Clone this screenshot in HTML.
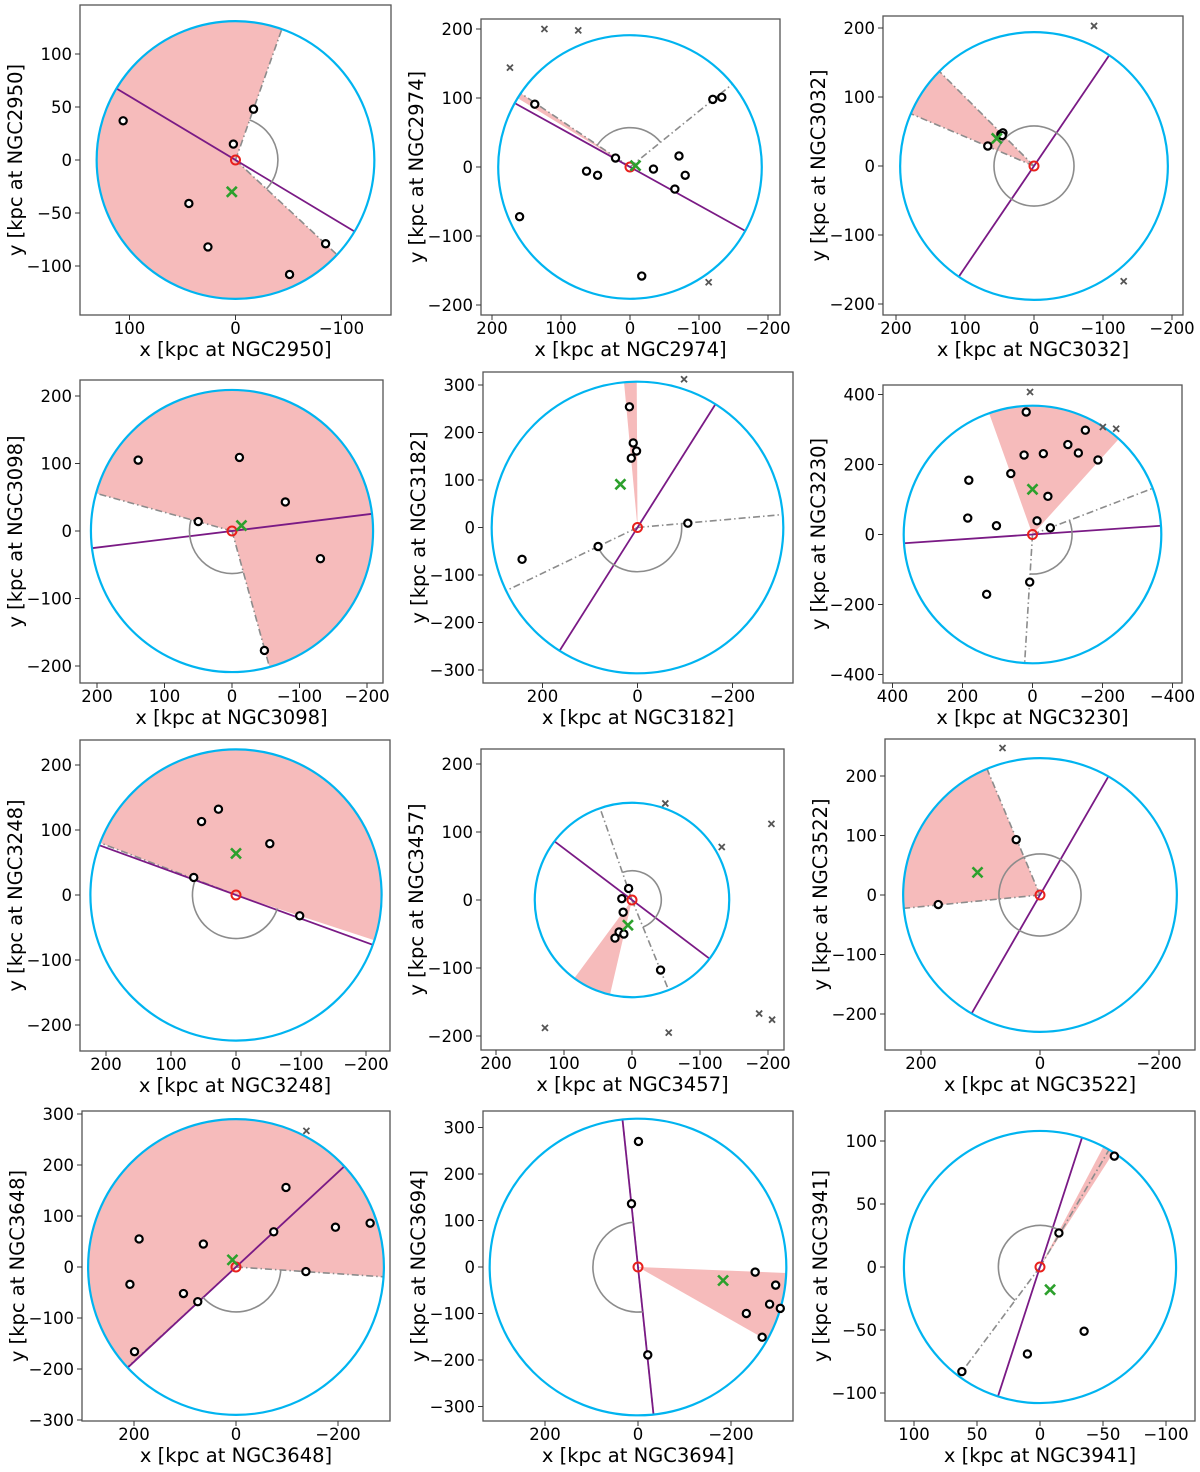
<!DOCTYPE html>
<html><head><meta charset="utf-8">
<style>
html,body{margin:0;padding:0;background:#fff;}
svg{display:block;font-family:"DejaVu Sans","Liberation Sans",sans-serif;}
</style></head>
<body>
<svg id="fig" width="1200" height="1472" viewBox="0 0 1200 1472" xmlns="http://www.w3.org/2000/svg"></svg>
<script>
// ---- data ----
const galaxyNames = ["NGC2950","NGC2974","NGC3032","NGC3098","NGC3182","NGC3230","NGC3248","NGC3457","NGC3522","NGC3648","NGC3694","NGC3941"];
const satX = [
 [106,-17,2,44,26,-51,-85],
 [138,21,63,47,-34,-71,-80,-65,-120,-133,160,-17],
 [67,48,45,46],
 [139,-11,-79,50,-131,-48],
 [17,9,2,13,-106,83,243],
 [18,24,-31,-101,-131,-151,-187,62,-44,-13,-51,182,185,103,8,131],
 [27,53,-52,65,-98],
 [5,15,13,19,12,25,-42],
 [40,171],
 [-98,-74,-195,-263,-137,190,64,208,103,75,199],
 [-1,14,-21,-252,-296,-283,-306,-233,-267],
 [-59,-15,-35,10,62]
];
const satY = [
 [37,48,15,-41,-82,-108,-79],
 [91,13,-6,-12,-3,16,-12,-32,98,101,-72,-158],
 [29,46,48,44],
 [105,109,43,14,-41,-177],
 [254,178,161,146,9,-40,-67],
 [350,227,231,257,233,298,213,174,109,39,19,155,47,25,-136,-171],
 [132,113,79,27,-32],
 [17,2,-18,-47,-50,-56,-103],
 [93,-16],
 [156,69,78,86,-9,55,45,-34,-52,-68,-166],
 [270,136,-189,-11,-39,-80,-89,-100,-151],
 [88,27,-51,-69,-83]
];
const bgX = [[],[124,75,174,-114],[-87,-130],[],[-98],[7,-201,-239],[],[-49,-205,-132,128,-54,-187,-206],[63],[-138],[],[]];
const bgY = [[],[200,198,144,-167],[203,-167],[],[312],[407,307,302],[],[142,112,78,-188,-195,-167,-176],[247],[267],[],[]];
const centroidX = [3.5,-8,54,-14,36,0,0,6,105,7,-183,-8];
const centroidY = [-30,2,40,8,91,129,64,-37,38,14,-29,-18];
const circleR = [131,191,194,209,307,368,224,143,230,290,319,108];
const majorAngle = [149,151,55.8,7,57.7,3.9,160,142.9,60,42.9,96,72];
const wedgeStart = [70.5,146,135,-74.6,90.3,47.9,-18.1,233.6,112.8,-3.8,-29.6,57.3];
const wedgeEnd = [317,148.5,157,164.5,95.3,109.7,159,256.9,185.6,222.7,-2.3,62.2];
const arcR = [40,57,58,63,93,113,67,43,69,88,97,33];
const arcStart = [-43,39,0,164.5,205.7,266.5,160,-67.9,0,222.7,96,59.5];
const arcEnd = [70.5,147,360,285.4,365.1,381,341.9,109.2,360,356.2,276,233.3];
const dashLines = [[70.5,-43],[39,146],[135,157],[164.5,-74.6],[5.1,205.7],[21,266.5],[159],[109.2,-67.9],[112.8,185.6],[-3.8,222.7],[96,276],[59.5,233.3]];
const xTicks = [[100,0,-100],[200,100,0,-100,-200],[200,100,0,-100,-200],[200,100,0,-100,-200],[200,0,-200],[400,200,0,-200,-400],[200,100,0,-100,-200],[200,100,0,-100,-200],[200,0,-200],[200,0,-200],[200,0,-200],[100,50,0,-50,-100]];
const yTicks = [[100,50,0,-50,-100],[200,100,0,-100,-200],[200,100,0,-100,-200],[200,100,0,-100,-200],[300,200,100,0,-100,-200,-300],[400,200,0,-200,-400],[200,100,0,-100,-200],[200,100,0,-100,-200],[200,100,0,-100,-200],[300,200,100,0,-100,-200,-300],[300,200,100,0,-100,-200,-300],[100,50,0,-50,-100]];
// ---- layout (pixels) ----
const boxL=[80,481,883,80,483,883,80,481,885,82,483,885];
const boxT=[5,19,16,380,372,385,740,749,739,1111,1111,1111];
const boxR=[391,780,1183,383,793,1182,390,784,1195,390,793,1195];
const boxB=[315,315,315,683,683,683,1051,1050,1050,1421,1421,1421];
const ctrX=[235.5,630,1034,232,637.5,1032.5,236,632,1040,236,638,1040];
const ctrY=[160,167,166,531,527.5,534.5,895,900,895,1267,1267,1267];
const scale=[1.06,0.69,0.69,0.675,0.475,0.35,0.65,0.68,0.595,0.51,0.465,1.26];

const NS="http://www.w3.org/2000/svg";
const svg=document.getElementById('fig');
function mk(tag,attrs,parent){const e=document.createElementNS(NS,tag);for(const k in attrs)e.setAttribute(k,attrs[k]);(parent||svg).appendChild(e);return e;}
function fmt(v){return v<0?"\u2212"+Math.abs(v):String(v);}
const defs=mk('defs',{});
for(let i=0;i<12;i++){
  const cx=ctrX[i],cy=ctrY[i],s=scale[i];
  const X=v=>cx-s*v, Y=v=>cy-s*v;
  const pa=(a,r)=>[cx+r*Math.cos(a*Math.PI/180), cy-r*Math.sin(a*Math.PI/180)];
  const cp=mk('clipPath',{id:'clip'+i},defs);
  mk('rect',{x:boxL[i],y:boxT[i],width:boxR[i]-boxL[i],height:boxB[i]-boxT[i]},cp);
  const g=mk('g',{});
  
  
  const pg=mk('g',{'clip-path':'url(#clip'+i+')'},g);
  const R=circleR[i]*s;
  const a1=wedgeStart[i],a2=wedgeEnd[i];
  const p1=pa(a1,R),p2=pa(a2,R);
  const large=((a2-a1+720)%360)>180?1:0;
  const w=mk('path',{d:`M${cx},${cy} L${p1[0]},${p1[1]} A${R},${R} 0 ${large} 0 ${p2[0]},${p2[1]} Z`,fill:'rgb(246,187,187)',stroke:'none'},pg);
  
  
  dashLines[i].forEach(a=>{const p=pa(a,R);
    const l=mk('line',{x1:cx,y1:cy,x2:p[0],y2:p[1],stroke:'#8c8c8c','stroke-width':1.6,'stroke-dasharray':'7,3,1.5,3'},pg);
    
    });
  const m1=pa(majorAngle[i],R),m2=pa(majorAngle[i]+180,R);
  const ml=mk('line',{x1:m1[0],y1:m1[1],x2:m2[0],y2:m2[1],stroke:'#7a1a85','stroke-width':1.8},pg);
  
  
  const r2=arcR[i]*s;
  let arc;
  if(arcEnd[i]-arcStart[i]>=359){arc=mk('circle',{cx:cx,cy:cy,r:r2,fill:'none',stroke:'#8c8c8c','stroke-width':1.6},pg);}
  else{const q1=pa(arcStart[i],r2),q2=pa(arcEnd[i],r2);const lg=(arcEnd[i]-arcStart[i])>180?1:0;
    arc=mk('path',{d:`M${q1[0]},${q1[1]} A${r2},${r2} 0 ${lg} 0 ${q2[0]},${q2[1]}`,fill:'none',stroke:'#8c8c8c','stroke-width':1.6},pg);}
  
  
  const c=mk('circle',{cx:cx,cy:cy,r:R,fill:'none',stroke:'#00b4f0','stroke-width':2.2},pg);
  
  
  bgX[i].forEach((v,j)=>{const x=X(v),y=Y(bgY[i][j]),d=3;
    const p=mk('path',{d:`M${x-d},${y-d}L${x+d},${y+d}M${x-d},${y+d}L${x+d},${y-d}`,stroke:'#555','stroke-width':1.8},pg);
    
    });
  satX[i].forEach((v,j)=>{
    const p=mk('circle',{cx:X(v),cy:Y(satY[i][j]),r:3.6,fill:'#fff',stroke:'#000','stroke-width':2.2},pg);
    
    });
  const h=mk('circle',{cx:cx,cy:cy,r:4.5,fill:'none',stroke:'#e8201c','stroke-width':2},pg);
  
  
  {const x=X(centroidX[i]),y=Y(centroidY[i]),d=5;
   const p=mk('path',{d:`M${x-d},${y-d}L${x+d},${y+d}M${x-d},${y+d}L${x+d},${y-d}`,stroke:'#2ca02c','stroke-width':2.6},pg);
   
   }
  const b=mk('rect',{x:boxL[i],y:boxT[i],width:boxR[i]-boxL[i],height:boxB[i]-boxT[i],fill:'none',stroke:'#555','stroke-width':1.3},g);
  
  
  xTicks[i].forEach(v=>{const x=X(v);
    mk('line',{x1:x,y1:boxB[i],x2:x,y2:boxB[i]+5,stroke:'#333','stroke-width':1},g);
    const t=mk('text',{x:x,y:boxB[i]+19,'font-size':16.5,'text-anchor':'middle',fill:'#000'},g);
    t.textContent=fmt(v);
    
    });
  yTicks[i].forEach(v=>{const y=Y(v);
    mk('line',{x1:boxL[i]-5,y1:y,x2:boxL[i],y2:y,stroke:'#333','stroke-width':1},g);
    const t=mk('text',{x:boxL[i]-8,y:y+6,'font-size':16.5,'text-anchor':'end',fill:'#000'},g);
    t.textContent=fmt(v);
    
    });
  const mx=(boxL[i]+boxR[i])/2, my=(boxT[i]+boxB[i])/2;
  const xl=mk('text',{x:mx,y:boxB[i]+41,'font-size':19.5,'text-anchor':'middle',fill:'#000'},g);
  xl.textContent='x [kpc at '+galaxyNames[i]+']';
  
  
  const yx=boxL[i]-58;
  const yl=mk('text',{x:yx,y:my,'font-size':19.5,'text-anchor':'middle',fill:'#000',transform:`rotate(-90 ${yx} ${my})`},g);
  yl.textContent='y [kpc at '+galaxyNames[i]+']';
  
  
}
</script>
</body></html>
